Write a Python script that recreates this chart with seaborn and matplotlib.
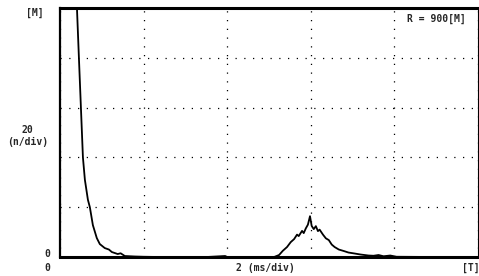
import numpy as np
import pandas as pd
import matplotlib
matplotlib.use("Agg")
import matplotlib.pyplot as plt
import seaborn as sns

# 数据 (时间 ms, 计数)
time_ms = [0.35, 0.405, 0.452, 0.5, 0.548, 0.595, 0.667, 0.714, 0.786, 0.88, 0.952,
           1.07, 1.17, 1.24, 1.38, 1.45, 1.55, 1.79, 2.0, 2.4, 3.0, 3.5, 3.95, 4.0,
           4.5, 5.12, 5.24, 5.33, 5.43, 5.52, 5.6, 5.67, 5.71, 5.79, 5.83, 5.88,
           5.93, 5.98, 6.02, 6.07, 6.12, 6.17, 6.21, 6.29, 6.36, 6.43, 6.5, 6.57,
           6.67, 6.79, 6.9, 7.05, 7.19, 7.38, 7.5, 7.62, 7.74, 7.9, 8.05, 9.0, 10.0]
counts = [130, 100, 80, 60, 40, 31, 23, 20, 12.8, 7.6, 5.2,
          3.6, 3.0, 2.0, 1.2, 1.5, 0.4, 0.2, 0.1, 0.0, 0.0, 0.0, 0.4, 0.0,
          0.0, 0.0, 0.8, 2.5, 4.0, 6.0, 7.2, 9.0, 8.4, 10.5, 9.6, 11.5,
          13.0, 16.4, 12.5, 11.2, 12.4, 10.4, 11.0, 9.0, 7.5, 6.8, 5.0, 4.0,
          3.0, 2.4, 1.8, 1.4, 1.0, 0.6, 0.5, 0.8, 0.3, 0.6, 0.1, 0.0, 0.0]

x_divs = [0, 2, 4, 6, 8, 10]
y_divs = [0, 20, 40, 60, 80, 100]

df = pd.DataFrame({'t': time_ms, 'n': counts})

sns.set_style("white")
plt.rcParams['font.family'] = ['DejaVu Sans Mono']
plt.rcParams['font.weight'] = 'bold'

fig = plt.figure(figsize=(4.79, 2.76), dpi=100)
ax = fig.add_axes([0.1253, 0.0688, 0.8727, 0.902])

sns.lineplot(data=df, x='t', y='n', ax=ax, color='black', linewidth=1.3)

ax.set_xlim(0, 10)
ax.set_ylim(0, 100)
ax.set_xticks(x_divs)
ax.set_yticks(y_divs)
ax.tick_params(length=0, labelbottom=False, labelleft=False)
ax.grid(True, color='black', linestyle=(0, (1, 6)), linewidth=0.9)
ax.set_xlabel('')
ax.set_ylabel('')

for side, lw in [('top', 2.2), ('bottom', 2.2), ('left', 1.6), ('right', 0.8)]:
    ax.spines[side].set_visible(True)
    ax.spines[side].set_color('black')
    ax.spines[side].set_linewidth(lw)

fs = 7
fig.text(0.073, 0.955, '[M]', fontsize=fs, ha='center', va='center', fontweight='bold')
fig.text(0.058, 0.507, '20\n(n/div)', fontsize=fs, ha='center', va='center',
         fontweight='bold', linespacing=1.2)
fig.text(0.098, 0.08, '0', fontsize=fs, ha='center', va='center', fontweight='bold')
fig.text(0.098, 0.028, '0', fontsize=fs, ha='center', va='center', fontweight='bold')
fig.text(0.553, 0.028, '2 (ms/div)', fontsize=fs, ha='center', va='center', fontweight='bold')
fig.text(0.982, 0.028, '[T]', fontsize=fs, ha='center', va='center', fontweight='bold')
ax.text(0.97, 0.955, 'R = 900[M]', transform=ax.transAxes, fontsize=fs,
        ha='right', va='center', fontweight='bold')

fig.savefig('out.png', dpi=100, facecolor='white')
